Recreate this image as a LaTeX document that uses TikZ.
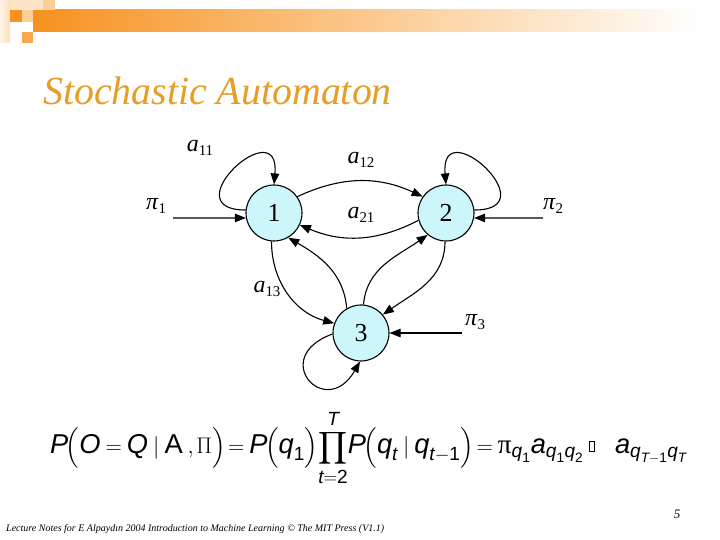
\documentclass[tikz,border=0pt]{standalone}
\usepackage{amsmath}
\usepackage{fontspec}
\setmainfont{Liberation Serif}
\newfontfamily\arf{Liberation Sans}
\usetikzlibrary{arrows.meta}
\definecolor{nodecyan}{RGB}{204,246,250}
\definecolor{titleor}{RGB}{230,158,38}
\definecolor{baror}{RGB}{247,146,30}
\newcommand\vi[1]{\text{\arf\itshape #1}}
\newcommand\vu[1]{\text{\arf #1}}
\newcommand\sqbx{\text{\setlength\fboxsep{0pt}\setlength\fboxrule{0.7pt}\raisebox{0.1em}{\fbox{\rule{0pt}{0.36em}\rule{0.18em}{0pt}}}}}
\newcommand\albl[2]{\textit{#1}\raisebox{-4bp}{\fontsize{15}{15}\selectfont #2}}
\newcommand\plbl[1]{\textit{π}\raisebox{-4bp}{\fontsize{15}{15}\selectfont #1}}
\begin{document}
\begin{tikzpicture}[x=1bp,y=1bp,
  state/.style={circle,draw,line width=1.1bp,fill=nodecyan,minimum size=56bp,inner sep=0pt,font=\fontsize{26}{26}\selectfont},
  edgeline/.style={line width=1.1bp,-{Triangle[length=11bp,width=8.5bp]}},
  lbl/.style={inner sep=0pt,font=\fontsize{24}{24}\selectfont}]
\useasboundingbox (0,0) rectangle (720,540);
\fill[white] (0,0) rectangle (720,540);
% header decoration
\shade[left color=baror,right color=white] (33,508) rectangle (700,530);
\fill[white] (700,508) rectangle (720,530);
\shade[left color=baror!10,right color=baror!30] (0,497) rectangle (10,540);
\fill[baror!25] (10,530) rectangle (43,540);
\fill[baror!45] (43,530) rectangle (55,540);
\fill[baror] (10,518) rectangle (22,530);
\fill[baror!45] (22,518) rectangle (33,530);
\fill[baror!80] (22,497) rectangle (33,508);
% title
\node[anchor=base west,inner sep=0pt,text=titleor,font=\fontsize{40}{40}\selectfont\itshape] (title) at (43,435) {Stochastic Automaton};
% states
\node[state] (n1) at (274,327) {1};
\node[state] (n2) at (446,327) {2};
\node[state] (n3) at (361,207) {3};
% initial arrows
\coordinate (p1) at (173,322);
\coordinate (p2) at (543,322);
\coordinate (p3) at (462,207);
\draw[edgeline] (p1) -- (n1.190);
\draw[edgeline] (p2) -- (n2.-10);
\draw[edgeline] (p3) -- (n3.east);
% self loops
\draw[edgeline] (n1.174) to[out=180,in=85,looseness=5] (n1.north);
\draw[edgeline] (n2.6) to[out=0,in=95,looseness=5] (n2.north);
\draw[edgeline] (n3.182) to[out=200,in=240,looseness=4.5] (n3.268);
% transitions
\draw[edgeline] (n1.35) to[bend left=25] (n2.145);
\draw[edgeline] (n2.195) to[bend left=25] (n1.335);
\draw[edgeline] (n1.265) to[out=270,in=165] (n3.160);
\draw[edgeline] (n3.120) to[out=95,in=330] (n1.300);
\draw[edgeline] (n3.85) to[out=85,in=215] (n2.230);
\draw[edgeline] (n2.268) to[out=270,in=35] (n3.40);
% labels
\node[lbl] (la11) at (200,392) {\albl{a}{11}};
\node[lbl] (la12) at (361,380) {\albl{a}{12}};
\node[lbl] (la21) at (361,325) {\albl{a}{21}};
\node[lbl] (la13) at (267,251) {\albl{a}{13}};
\node[lbl] (lp1) at (156,334) {\plbl{1}};
\node[lbl] (lp2) at (553,334) {\plbl{2}};
\node[lbl] (lp3) at (475,218) {\plbl{3}};
% formula
\node[anchor=base west,inner sep=0pt] (formula) at (50,86)
{\resizebox{637bp}{!}{\fontsize{30}{36}\selectfont\thickmuskip=4mu\medmuskip=3mu\thinmuskip=2mu%
$\displaystyle \vi{P}\!\Bigl(\vi{O} = \vi{Q} \;\vert\; \vu{A}\;,\Pi\Bigr)\! = \vi{P}\!\Bigl(\vi{q}_{\vu{1}}\Bigr)\!\prod_{\vi{t}=\vu{2}}^{\vi{T}}\! \vi{P}\!\Bigl(\vi{q}_{\vi{t}} \;\vert\; \vi{q}_{\vi{t}-\vu{1}}\Bigr)\! = \text{π}_{\vi{q}_{\vu{1}}}\vi{a}_{\vi{q}_{\vu{1}}\vi{q}_{\vu{2}}}\;\sqbx\;\;\;\;\vi{a}_{\vi{q}_{\vi{T}-\vu{1}}\vi{q}_{\vi{T}}}$}};
% footer
\node[anchor=base west,inner sep=0pt] (footer) at (6,8) {\resizebox{378bp}{!}{\fontsize{9}{9}\selectfont\itshape Lecture Notes for E Alpaydın 2004 Introduction to Machine Learning © The MIT Press (V1.1)}};
\node[anchor=base,inner sep=0pt,font=\fontsize{13}{13}\selectfont\itshape] (pnum) at (677,21) {5};
\end{tikzpicture}
\end{document}
